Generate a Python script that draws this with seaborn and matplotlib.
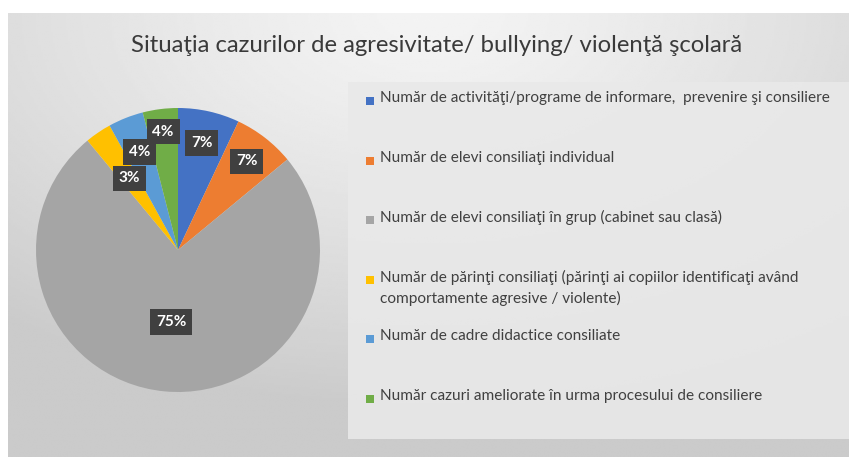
import numpy as np
import matplotlib
matplotlib.use("Agg")
import matplotlib.pyplot as plt
from matplotlib.patches import Rectangle
import seaborn as sns

title = "Situaţia cazurilor de agresivitate/ bullying/ violenţă şcolară"
categories = [
    "Număr de activităţi/programe de informare,  prevenire şi consiliere",
    "Număr de elevi consiliaţi individual",
    "Număr de elevi consiliaţi în grup (cabinet sau clasă)",
    "Număr de părinţi consiliaţi (părinţi ai copiilor identificaţi având\ncomportamente agresive / violente)",
    "Număr de cadre didactice consiliate",
    "Număr cazuri ameliorate în urma procesului de consiliere",
]
percent = [7, 7, 75, 3, 4, 4]
colors = ["#4472C4", "#ED7D31", "#A5A5A5", "#FFC000", "#5B9BD5", "#70AD47"]

sns.set_theme(style="white")
plt.rcParams["font.family"] = ["Lato", "DejaVu Sans"]

W, H = 849, 457
fig = plt.figure(figsize=(W / 100, H / 100), dpi=100, facecolor="white")

# chart area background with radial gradient
bg = fig.add_axes([8 / W, 0, 1 - 8 / W, 1 - 13 / H])
bg.set_axis_off()
yy, xx = np.mgrid[0:1:200j, 0:1:400j]
dist = np.sqrt(((xx - 0.5) * 1.0) ** 2 + ((yy - 0.0) * 0.9) ** 2)
shade = 0.955 - 0.16 * np.clip(dist / 0.8, 0, 1) ** 1.3
bg.imshow(shade, cmap="gray", vmin=0, vmax=1, aspect="auto",
          extent=[0, 1, 1, 0], interpolation="bilinear")
bg.set_xlim(0, 1)
bg.set_ylim(1, 0)

# legend panel
fig.patches.append(Rectangle((348 / W, 1 - 439 / H), 1 - 348 / W, (439 - 82) / H,
                             transform=fig.transFigure, facecolor="#e9e9e9",
                             edgecolor="none", alpha=0.9, zorder=1))

fig.text(437 / W, 1 - 45 / H, title, ha="center", va="center",
         fontsize=17.2, color="#3a3a3a")

# pie
cx, cy, r = 178, 250, 142
ax = fig.add_axes([(cx - r) / W, (H - cy - r) / H, 2 * r / W, 2 * r / H])
wedges, _ = ax.pie(percent, colors=colors, startangle=90, counterclock=False,
                   radius=1, wedgeprops=dict(linewidth=0))
ax.set_xlim(-1, 1)
ax.set_ylim(-1, 1)
ax.set_aspect("equal")
ax.set_axis_off()

label_r = [0.77, 0.79, 0.51, 0.61, 0.74, 0.84]
for w, p, lr in zip(wedges, percent, label_r):
    ang = np.deg2rad((w.theta1 + w.theta2) / 2)
    ax.text(lr * np.cos(ang), lr * np.sin(ang), f"{p}%", ha="center", va="center",
            fontsize=11, fontweight="bold", color="white",
            bbox=dict(boxstyle="square,pad=0.38", fc="#404040", ec="none"))

# legend entries
leg_y = [101, 161, 220, 280, 339, 399]
for lab, col, y in zip(categories, colors, leg_y):
    fig.patches.append(Rectangle((366 / W, 1 - (y + 4) / H), 8 / W, 8 / H,
                                 transform=fig.transFigure, facecolor=col,
                                 edgecolor="none", zorder=3))
    fig.text(380 / W, 1 - (y - 10) / H, lab, ha="left", va="top",
             fontsize=11.1, color="#404040", linespacing=1.45)

fig.savefig("out.png", dpi=100, facecolor="white")
